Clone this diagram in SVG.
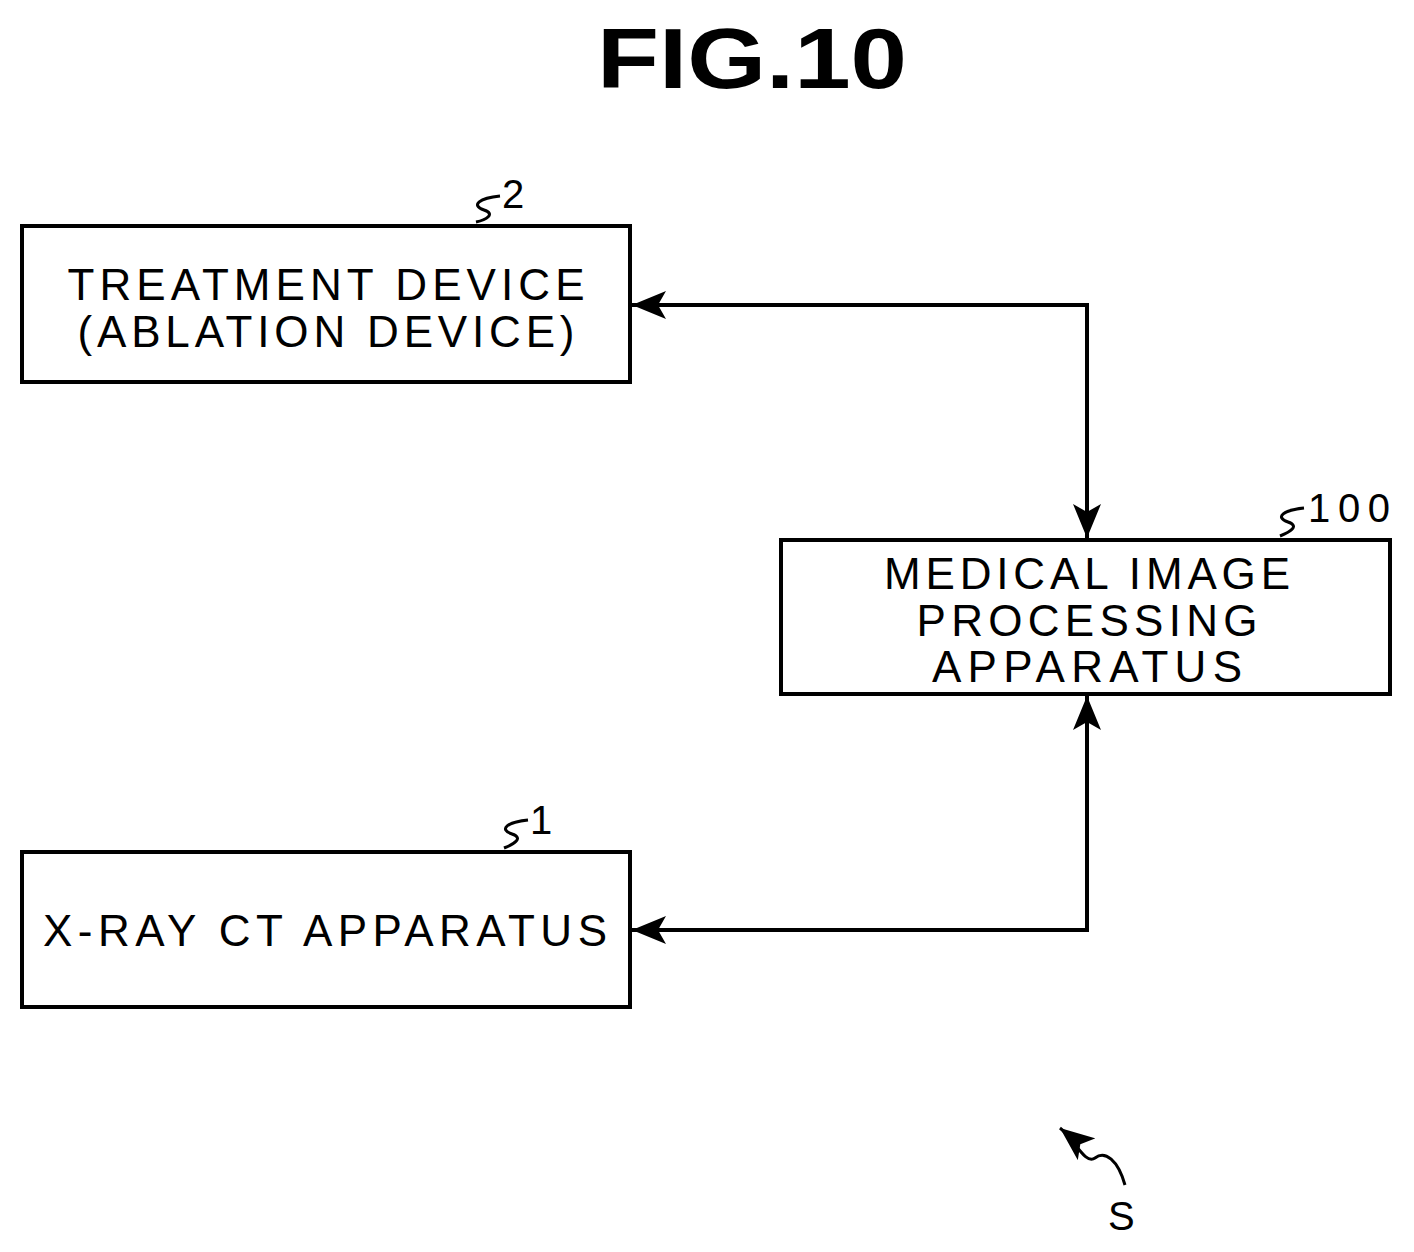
<svg xmlns="http://www.w3.org/2000/svg" width="1414" height="1252" viewBox="0 0 1414 1252">
<style>
.b{fill:#fff;stroke:#000;stroke-width:4}
.t{font-family:"Liberation Sans",Arial,sans-serif;font-size:44px;text-anchor:middle;fill:#000}
.r{font-family:"Liberation Sans",Arial,sans-serif;font-size:40px;fill:#000}
.l{fill:none;stroke:#000;stroke-width:4}
.s{fill:none;stroke:#000;stroke-width:3}
</style>
<defs>
<marker id="m" viewBox="0 0 34 28" refX="34" refY="14" markerWidth="34" markerHeight="28" markerUnits="userSpaceOnUse" orient="auto-start-reverse">
<path d="M0,0 L34,14 L0,28 L8,14 Z" fill="#000"/>
</marker>
</defs>
<text x="752" y="88" font-family="Liberation Sans,Arial,sans-serif" font-weight="bold" font-size="86" text-anchor="middle" textLength="310" lengthAdjust="spacingAndGlyphs">FIG.10</text>
<g id="treatment"><rect class="b" x="22" y="226" width="608" height="156"/>
<text class="t" x="326" y="300" textLength="517">TREATMENT DEVICE</text><text class="t" x="326" y="347" textLength="497">(ABLATION DEVICE)</text>
<path class="s" d="M500,196 C480,198 470,205 484,210 C496,214 486,220 476,222"/><text class="r" x="502" y="208">2</text></g>
<g id="mip"><rect class="b" x="781" y="540" width="609" height="154"/>
<text class="t" x="1087" y="589" textLength="406">MEDICAL IMAGE</text><text class="t" x="1087" y="636" textLength="341">PROCESSING</text><text class="t" x="1087" y="682" textLength="310">APPARATUS</text>
<path class="s" d="M1304,508 C1284,510 1274,517 1288,522 C1300,526 1290,532 1280,536"/><text class="r" x="1308" y="522" textLength="82">100</text></g>
<g id="xray"><rect class="b" x="22" y="852" width="608" height="155"/>
<text class="t" x="325" y="946" textLength="564">X-RAY CT APPARATUS</text>
<path class="s" d="M528,820 C508,822 498,829 512,834 C524,838 514,844 504,848"/><text class="r" x="530" y="834">1</text></g>
<g id="connectors">
<path class="l" d="M632,305 H1087 V538" marker-start="url(#m)" marker-end="url(#m)"/>
<path class="l" d="M1087,696 V930 H632" marker-start="url(#m)" marker-end="url(#m)"/>
<path class="s" d="M1125,1185 C1118,1160 1105,1150 1095,1158 C1085,1165 1075,1140 1060,1128" marker-end="url(#m)"/>
</g>
<text class="r" x="1108" y="1230">S</text>
</svg>
